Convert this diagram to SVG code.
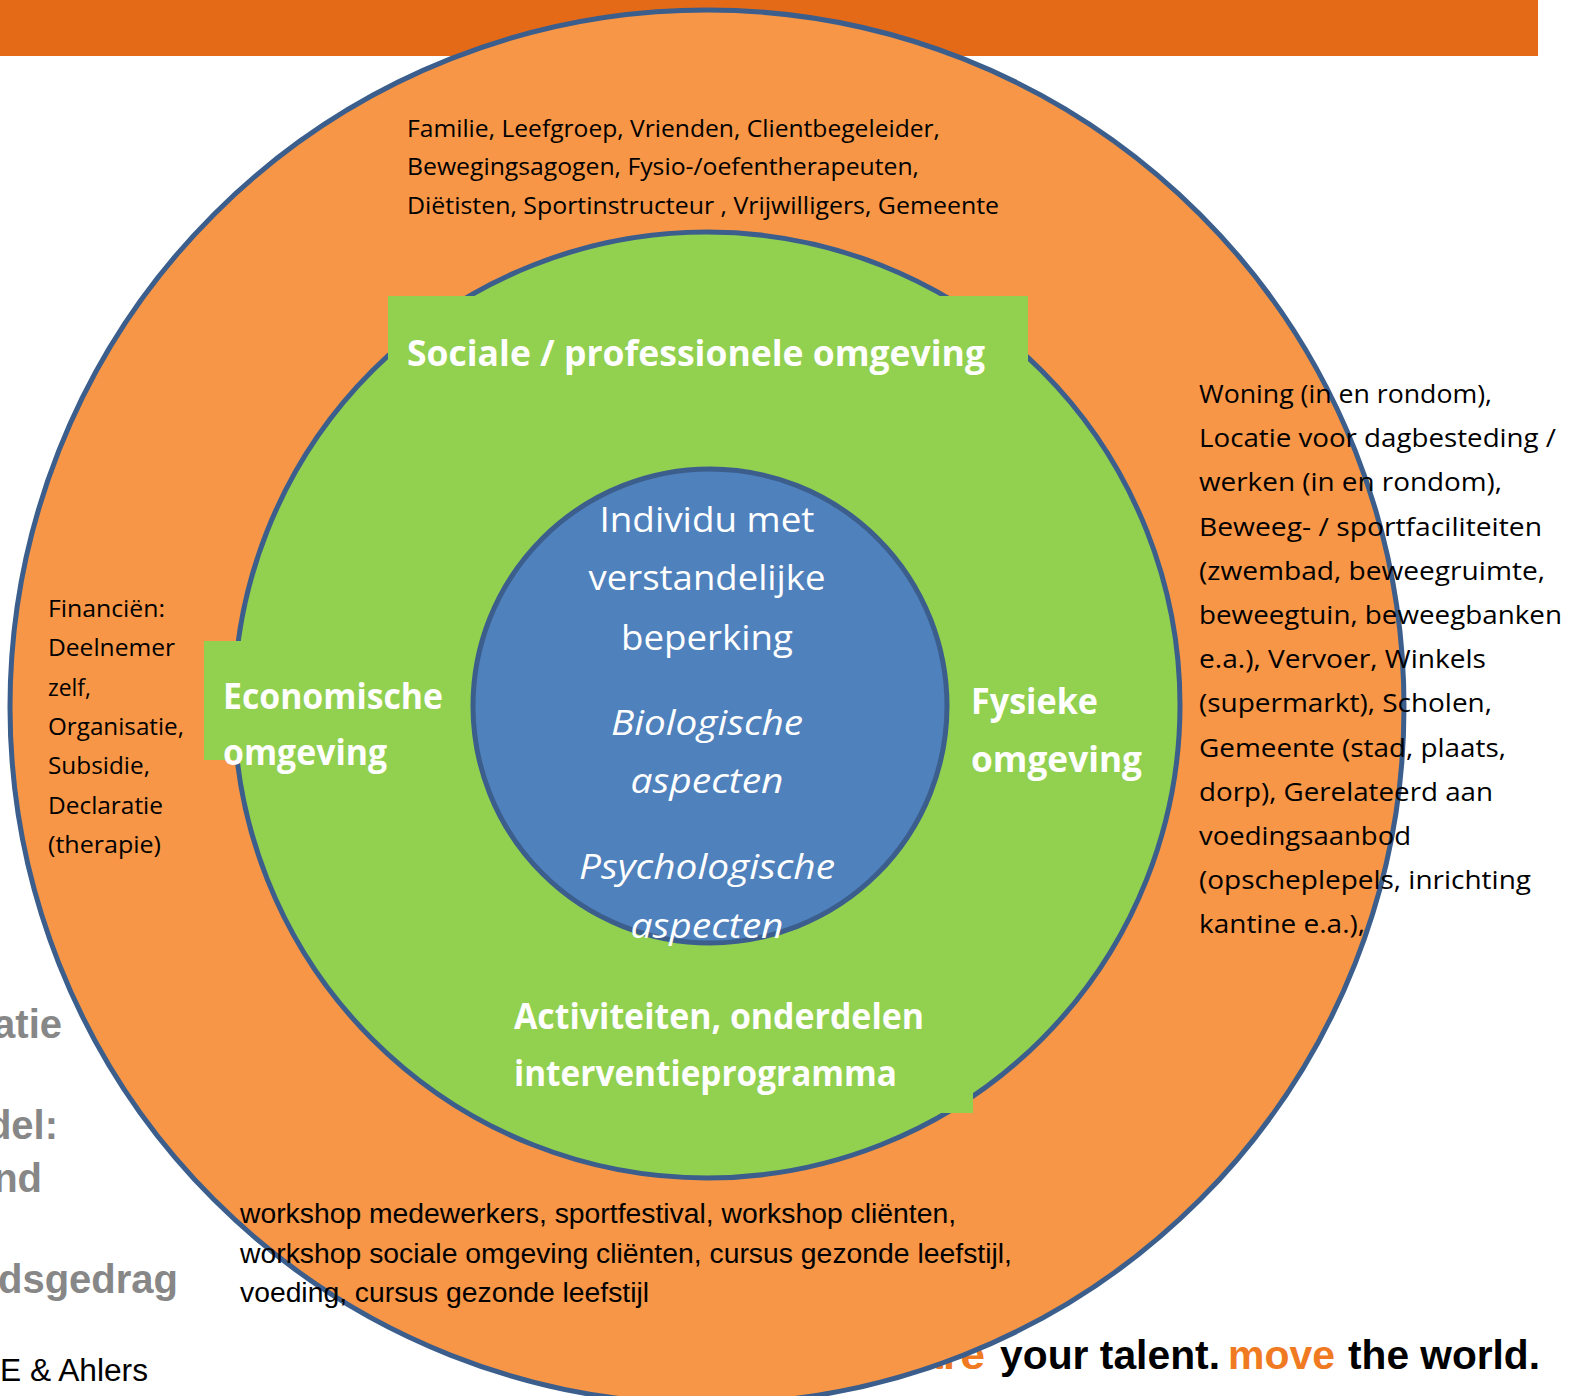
<svg xmlns="http://www.w3.org/2000/svg" width="1584" height="1396" viewBox="0 0 1584 1396">
<style>
.cal{font-family:"Open Sans","Noto Sans",sans-serif;}
.blk{fill:#000;}
.wht{fill:#fff;}
.bold{font-weight:bold;}
.ital{font-style:italic;}
.ring{stroke:#3B5E8C;stroke-width:5;}
.arial{font-family:"Liberation Sans",Arial,sans-serif;}
.gray{fill:#878787;font-weight:bold;}
</style>
<rect x="0" y="0" width="1584" height="1396" fill="#fff"/>
<rect id="topbar" x="0" y="0" width="1538" height="56" fill="#E56A17"/>
<g id="sidetext" class="arial">
<text class="gray" x="62" y="1038" font-size="40" text-anchor="end">atie</text>
<text class="gray" x="58" y="1139" font-size="40" text-anchor="end">del:</text>
<text class="gray" x="42" y="1192" font-size="40" text-anchor="end">nd</text>
<text class="gray" x="178" y="1293" font-size="40" text-anchor="end">dsgedrag</text>
<text class="blk" x="0" y="1381" font-size="31" textLength="148" lengthAdjust="spacingAndGlyphs">E &amp; Ahlers</text>
</g>
<g id="tagline" class="arial" font-weight="bold" font-size="40">
<text x="918" y="1369" fill="#F07A22" textLength="67" lengthAdjust="spacingAndGlyphs">are</text>
<text x="1000" y="1369" fill="#000" textLength="220" lengthAdjust="spacingAndGlyphs">your talent.</text>
<text x="1228" y="1369" fill="#F07A22" textLength="107" lengthAdjust="spacingAndGlyphs">move</text>
<text x="1348" y="1369" fill="#000" textLength="192" lengthAdjust="spacingAndGlyphs">the world.</text>
</g>
<g id="outer">
<circle cx="707" cy="707" r="697" fill="#F79646" class="ring"/>
</g>
<g id="middle">
<circle cx="707" cy="705" r="473" fill="#92D050" class="ring"/>
</g>
<g id="inner">
<circle cx="710" cy="706" r="237" fill="#4F81BD" class="ring"/>
</g>
<g id="connectors"></g>
<g id="label-sociaal">
<rect x="388" y="296" width="640" height="84" fill="#92D050"/>
<text class="cal wht bold" x="407" y="366" font-size="35" textLength="578" lengthAdjust="spacingAndGlyphs">Sociale / professionele omgeving</text>
</g>
<g id="label-economisch">
<rect x="204" y="641" width="100" height="119" fill="#92D050"/>
<text class="cal wht bold" font-size="35"><tspan x="223" y="709" textLength="220" lengthAdjust="spacingAndGlyphs">Economische</tspan><tspan x="223" y="765" textLength="164" lengthAdjust="spacingAndGlyphs">omgeving</tspan></text>
</g>
<g id="label-fysiek">
<text class="cal wht bold" font-size="35"><tspan x="971" y="714" textLength="127" lengthAdjust="spacingAndGlyphs">Fysieke</tspan><tspan x="971" y="772" textLength="171" lengthAdjust="spacingAndGlyphs">omgeving</tspan></text>
</g>
<g id="label-activiteiten">
<rect x="500" y="985" width="473" height="128" fill="#92D050"/>
<text class="cal wht bold" font-size="35"><tspan x="514" y="1029" textLength="410" lengthAdjust="spacingAndGlyphs">Activiteiten, onderdelen</tspan><tspan x="514" y="1086" textLength="383" lengthAdjust="spacingAndGlyphs">interventieprogramma</tspan></text>
</g>
<g id="center-text" class="cal wht" font-size="35" text-anchor="middle">
<text x="707" y="532" textLength="215" lengthAdjust="spacingAndGlyphs">Individu met</text>
<text x="707" y="590" textLength="237" lengthAdjust="spacingAndGlyphs">verstandelijke</text>
<text x="707" y="650" textLength="172" lengthAdjust="spacingAndGlyphs">beperking</text>
<text class="ital" x="707" y="735" textLength="192" lengthAdjust="spacingAndGlyphs">Biologische</text>
<text class="ital" x="707" y="793" textLength="153" lengthAdjust="spacingAndGlyphs">aspecten</text>
<text class="ital" x="707" y="879" textLength="256" lengthAdjust="spacingAndGlyphs">Psychologische</text>
<text class="ital" x="707" y="938" textLength="153" lengthAdjust="spacingAndGlyphs">aspecten</text>
</g>
<g id="text-sociaal" class="cal blk" font-size="24">
<text x="407" y="137" textLength="533" lengthAdjust="spacingAndGlyphs">Familie, Leefgroep, Vrienden, Clientbegeleider,</text>
<text x="407" y="175" textLength="512" lengthAdjust="spacingAndGlyphs">Bewegingsagogen, Fysio-/oefentherapeuten,</text>
<text x="407" y="214" textLength="592" lengthAdjust="spacingAndGlyphs">Diëtisten, Sportinstructeur , Vrijwilligers, Gemeente</text>
</g>
<g id="text-fysiek" class="cal blk" font-size="25.5">
<text x="1199" y="403" textLength="293" lengthAdjust="spacingAndGlyphs">Woning (in en rondom),</text>
<text x="1199" y="447" textLength="357" lengthAdjust="spacingAndGlyphs">Locatie voor dagbesteding /</text>
<text x="1199" y="491" textLength="303" lengthAdjust="spacingAndGlyphs">werken (in en rondom),</text>
<text x="1199" y="536" textLength="343" lengthAdjust="spacingAndGlyphs">Beweeg- / sportfaciliteiten</text>
<text x="1199" y="580" textLength="346" lengthAdjust="spacingAndGlyphs">(zwembad, beweegruimte,</text>
<text x="1199" y="624" textLength="363" lengthAdjust="spacingAndGlyphs">beweegtuin, beweegbanken</text>
<text x="1199" y="668" textLength="287" lengthAdjust="spacingAndGlyphs">e.a.), Vervoer, Winkels</text>
<text x="1199" y="712" textLength="293" lengthAdjust="spacingAndGlyphs">(supermarkt), Scholen,</text>
<text x="1199" y="757" textLength="307" lengthAdjust="spacingAndGlyphs">Gemeente (stad, plaats,</text>
<text x="1199" y="801" textLength="294" lengthAdjust="spacingAndGlyphs">dorp), Gerelateerd aan</text>
<text x="1199" y="845" textLength="212" lengthAdjust="spacingAndGlyphs">voedingsaanbod</text>
<text x="1199" y="889" textLength="332" lengthAdjust="spacingAndGlyphs">(opscheplepels, inrichting</text>
<text x="1199" y="933" textLength="166" lengthAdjust="spacingAndGlyphs">kantine e.a.),</text>
</g>
<g id="text-economisch" class="cal blk" font-size="23">
<text x="48" y="617" textLength="117" lengthAdjust="spacingAndGlyphs">Financiën:</text>
<text x="48" y="656" textLength="127" lengthAdjust="spacingAndGlyphs">Deelnemer</text>
<text x="48" y="696" textLength="43" lengthAdjust="spacingAndGlyphs">zelf,</text>
<text x="48" y="735" textLength="136" lengthAdjust="spacingAndGlyphs">Organisatie,</text>
<text x="48" y="774" textLength="102" lengthAdjust="spacingAndGlyphs">Subsidie,</text>
<text x="48" y="814" textLength="115" lengthAdjust="spacingAndGlyphs">Declaratie</text>
<text x="48" y="853" textLength="113" lengthAdjust="spacingAndGlyphs">(therapie)</text>
</g>
<g id="text-activiteiten" class="arial blk" font-size="27">
<text x="240" y="1223" textLength="716" lengthAdjust="spacingAndGlyphs">workshop medewerkers, sportfestival, workshop cliënten,</text>
<text x="240" y="1263" textLength="772" lengthAdjust="spacingAndGlyphs">workshop sociale omgeving cliënten, cursus gezonde leefstijl,</text>
<text x="240" y="1302" textLength="409" lengthAdjust="spacingAndGlyphs">voeding, cursus gezonde leefstijl</text>
</g>
</svg>
